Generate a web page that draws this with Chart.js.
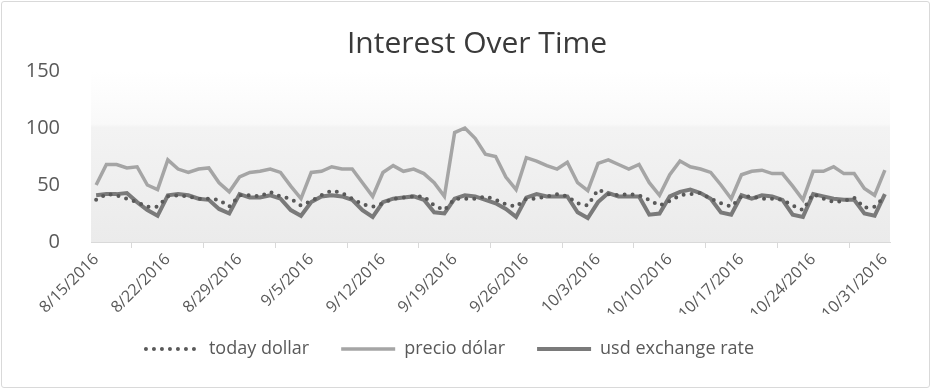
<!DOCTYPE html>
<html>
<head>
<meta charset="utf-8">
<script src="https://cdn.jsdelivr.net/npm/chart.js@4.4.1/dist/chart.umd.min.js"></script>
<style>
  html, body { margin: 0; padding: 0; background: #fff; }
  #wrap { position: relative; width: 932px; height: 389px; }
  #frame { position: absolute; left: 1px; top: 1px; width: 927px; height: 385px;
           border: 1px solid #d9d9d9; border-radius: 3px; pointer-events: none; }
</style>
</head>
<body>
<div id="wrap">
  <canvas id="trendChart" width="932" height="389"></canvas>
  <div id="frame"></div>
</div>
<script>
// daily dates 8/15/2016 .. 10/31/2016
const startDay = new Date(2016, 7, 15);
const dayCount = 78;
const dates = [];
for (let i = 0; i < dayCount; i++) {
  const d = new Date(startDay.getFullYear(), startDay.getMonth(), startDay.getDate() + i);
  dates.push((d.getMonth() + 1) + "/" + d.getDate() + "/" + d.getFullYear());
}

const todayDollar = [
  37, 42, 41, 38, 35, 31, 31, 40, 41, 40, 38,
  38, 37, 31, 41, 41, 40, 44, 40, 38, 32, 36,
  41, 45, 43, 38, 33, 31, 34, 38, 39, 40, 40, 32,
  28, 38, 38, 38, 40, 37, 33, 31, 38, 38, 40,
  42, 40, 34, 32, 46, 42, 41, 42, 41, 37, 32,
  36, 41, 42, 43, 38, 34, 31, 40, 40, 38, 38,
  37, 32, 28, 42, 38, 35, 36, 39, 30, 31, 40
];

const precioDolar = [
  50, 68, 68, 65, 66, 50, 46, 72, 64, 61, 64,
  65, 52, 44, 57, 61, 62, 64, 61, 49, 38, 61,
  62, 66, 64, 64, 52, 40, 61, 67, 62, 64, 60, 52,
  40, 96, 100, 91, 77, 75, 57, 46, 74, 71, 67,
  64, 70, 52, 45, 69, 72, 68, 64, 68, 52, 41,
  59, 71, 66, 64, 61, 50, 38, 59, 62, 63, 60,
  60, 49, 37, 62, 62, 66, 60, 60, 47, 41, 63
];

const usdExchangeRate = [
  41, 42, 42, 43, 35, 28, 23, 41, 42, 41, 38,
  37, 29, 25, 42, 39, 39, 41, 38, 28, 23, 35,
  40, 41, 40, 37, 28, 22, 35, 38, 39, 40, 37, 26,
  25, 38, 41, 40, 37, 34, 29, 22, 39, 42, 40,
  40, 40, 26, 21, 35, 43, 40, 40, 40, 24, 25,
  40, 44, 46, 43, 38, 26, 24, 41, 38, 41, 40,
  37, 24, 22, 42, 40, 38, 37, 37, 25, 23, 42
];

const yTicks = [0, 50, 100, 150];

const textColor = "#595959";
const fontFamily = "'Open Sans', 'Noto Sans', sans-serif";

// light gray gradient behind the plot area
const plotBackground = {
  id: "plotBackground",
  beforeDatasetsDraw(chart) {
    const { ctx, chartArea: a } = chart;
    const g = ctx.createLinearGradient(0, a.top, 0, a.bottom);
    g.addColorStop(0, "#ffffff");
    g.addColorStop(0.31, "#f9f9f9");
    g.addColorStop(0.33, "#f3f3f3");
    g.addColorStop(1, "#ebebeb");
    ctx.save();
    ctx.fillStyle = g;
    ctx.fillRect(a.left, a.top, a.right - a.left, a.bottom - a.top);
    ctx.restore();
  }
};

// legend sits a little left of the title and tucks up under the date labels
const legendShift = {
  id: "legendShift",
  afterLayout(chart) {
    chart.legend.left -= 27;
    chart.legend.right -= 27;
    chart.legend.top -= 6;
    chart.legend.bottom -= 6;
  }
};

const ctx = document.getElementById("trendChart").getContext("2d");
const chart = new Chart(ctx, {
  type: "line",
  data: {
    labels: dates,
    datasets: [
      {
        label: "today dollar",
        data: todayDollar,
        borderColor: "#595959",
        borderWidth: 4,
        borderDash: [0, 8],
        borderCapStyle: "round",
        pointRadius: 0,
        tension: 0
      },
      {
        label: "precio dólar",
        data: precioDolar,
        borderColor: "#a5a5a5",
        borderWidth: 3.5,
        pointRadius: 0,
        tension: 0
      },
      {
        label: "usd exchange rate",
        data: usdExchangeRate,
        borderColor: "#7a7a7a",
        borderWidth: 4,
        pointRadius: 0,
        tension: 0
      }
    ]
  },
  options: {
    responsive: false,
    animation: false,
    layout: { padding: { left: 22, right: 0, top: 0, bottom: 15 } },
    plugins: {
      title: {
        display: true,
        text: "Interest Over Time",
        color: "#3a3a3a",
        font: { family: fontFamily, size: 30, weight: "normal" },
        padding: { top: 26, bottom: 9 }
      },
      legend: {
        position: "bottom",
        labels: {
          usePointStyle: true,
          pointStyle: "line",
          pointStyleWidth: 54,
          padding: 32,
          color: textColor,
          font: { family: fontFamily, size: 18 },
          generateLabels: function(chart) {
            const items = Chart.defaults.plugins.legend.labels.generateLabels(chart);
            items.forEach(function(item) {
              const ds = chart.data.datasets[item.datasetIndex];
              item.lineDash = ds.borderDash || [];
              item.lineCap = ds.borderCapStyle || "butt";
              item.lineWidth = ds.borderWidth;
              item.strokeStyle = ds.borderColor;
            });
            return items;
          }
        }
      },
      tooltip: { enabled: false }
    },
    scales: {
      x: {
        offset: true,
        afterFit: function(scale) { scale.height = 72; },
        grid: {
          offset: true,
          drawOnChartArea: false,
          drawTicks: true,
          tickLength: 6,
          color: "#d9d9d9"
        },
        border: { display: true, color: "#d9d9d9", width: 1 },
        ticks: {
          autoSkip: false,
          maxRotation: 45,
          minRotation: 45,
          padding: 2,
          color: textColor,
          font: { family: fontFamily, size: 16 },
          callback: function(value, index) {
            return index % 7 === 0 ? this.getLabelForValue(value) : null;
          }
        }
      },
      y: {
        min: yTicks[0],
        max: yTicks[yTicks.length - 1],
        afterFit: function(scale) { scale.width = 69; },
        afterBuildTicks: function(scale) {
          scale.ticks = yTicks.map(function(v) { return { value: v }; });
        },
        grid: { display: false },
        border: { display: false },
        ticks: {
          padding: 23,
          color: textColor,
          font: { family: fontFamily, size: 20 }
        }
      },
      yRight: {
        position: "right",
        min: 0,
        max: 150,
        afterFit: function(scale) { scale.width = 42; },
        grid: { display: false },
        border: { display: false },
        ticks: { display: false }
      }
    }
  },
  plugins: [plotBackground, legendShift]
});
</script>
</body>
</html>
